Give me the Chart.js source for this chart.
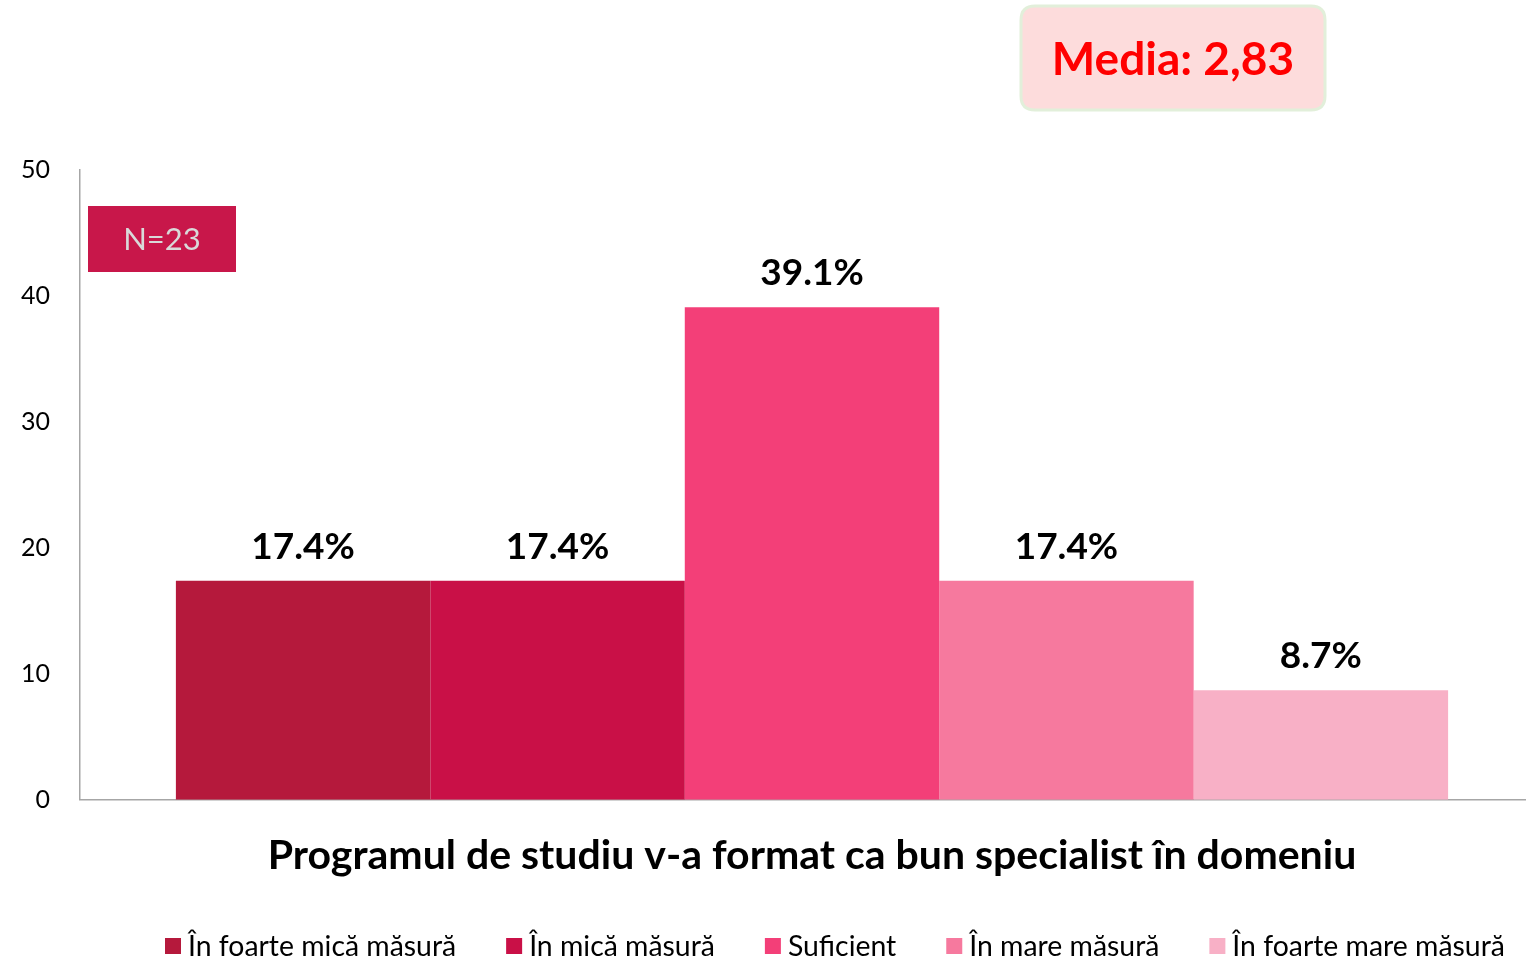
<!DOCTYPE html>
<html>
<head>
<meta charset="utf-8">
<script src="https://cdn.jsdelivr.net/npm/chart.js@4/dist/chart.umd.min.js"></script>
<style>
html,body{margin:0;padding:0;background:#fff;overflow:hidden;}
#wrap{width:1526px;height:959px;overflow:hidden;position:relative;}
canvas{position:absolute;left:0;top:0;}
</style>
</head>
<body>
<div id="wrap"><canvas id="c" width="1544" height="959"></canvas></div>
<script>
const categories = ['Programul de studiu v-a format ca bun specialist în domeniu'];
const seriesNames = ['În foarte mică măsură','În mică măsură','Suficient','În mare măsură','În foarte mare măsură'];
const seriesValues = [17.4, 17.4, 39.1, 17.4, 8.7];
const seriesColors = ['#B5193C','#C91047','#F33F78','#F6799E','#F8B0C6'];
const yTicks = [0,10,20,30,40,50];
const sampleLabel = 'N=23';
const meanLabel = 'Media: 2,83';

const FONT = 'Lato, "Open Sans", sans-serif';

const datasets = seriesNames.map((n,i)=>({
  label: n,
  data: [seriesValues[i]],
  backgroundColor: seriesColors[i],
  borderWidth: 0,
  barPercentage: 1.0,
  categoryPercentage: 0.869
}));

const decor = {
  id:'decor',
  afterDatasetsDraw(chart){
    const ctx = chart.ctx;
    ctx.save();
    ctx.fillStyle = '#000';
    ctx.font = 'bold 37px ' + FONT;
    ctx.textAlign = 'center';
    ctx.textBaseline = 'alphabetic';
    chart.data.datasets.forEach((ds,i)=>{
      const meta = chart.getDatasetMeta(i);
      meta.data.forEach((bar,j)=>{
        ctx.fillText(ds.data[j].toFixed(1)+'%', bar.x, bar.y - 22);
      });
    });
    // N box
    ctx.fillStyle = '#C8174A';
    ctx.fillRect(88,206,148,66);
    ctx.fillStyle = '#D9D9D9';
    ctx.font = '31px ' + FONT;
    ctx.textBaseline = 'middle';
    ctx.fillText(sampleLabel, 162, 240);
    // Media box
    const x=1021,y=6,w=304,h=104,r=14;
    ctx.beginPath();
    ctx.moveTo(x+r,y);ctx.lineTo(x+w-r,y);ctx.quadraticCurveTo(x+w,y,x+w,y+r);
    ctx.lineTo(x+w,y+h-r);ctx.quadraticCurveTo(x+w,y+h,x+w-r,y+h);
    ctx.lineTo(x+r,y+h);ctx.quadraticCurveTo(x,y+h,x,y+h-r);
    ctx.lineTo(x,y+r);ctx.quadraticCurveTo(x,y,x+r,y);ctx.closePath();
    ctx.fillStyle = '#FDDCDC';ctx.fill();
    ctx.lineWidth = 3;ctx.strokeStyle = '#E2EFDA';ctx.stroke();
    ctx.fillStyle = '#FF0000';
    ctx.font = 'bold 46px ' + FONT;
    ctx.fillText(meanLabel, x+w/2, y+h/2+2);
    // legend
    ctx.font = '28.4px ' + FONT;
    ctx.textAlign = 'left';
    ctx.textBaseline = 'middle';
    let lx = 165;
    const ly = 946;
    chart.data.datasets.forEach((ds)=>{
      ctx.fillStyle = ds.backgroundColor;
      ctx.fillRect(lx, ly-8, 16, 16);
      ctx.fillStyle = '#000';
      ctx.fillText(ds.label, lx+23, ly+1);
      lx += 23 + ctx.measureText(ds.label).width + 50;
    });
    ctx.restore();
  }
};

new Chart(document.getElementById('c'), {
  type:'bar',
  data:{labels:categories, datasets},
  options:{
    responsive:false,
    animation:false,
    layout:{padding:{top:170,right:0,left:0,bottom:79}},
    plugins:{
      legend:{display:false},
      tooltip:{enabled:false}
    },
    scales:{
      x:{
        ticks:{display:false},
        grid:{display:false, drawTicks:false},
        border:{display:true,color:'#A6A6A6',width:1.5},
        title:{display:true,text:categories[0],font:{family:FONT,size:41,weight:'bold'},color:'#000',padding:{top:31,bottom:0}}
      },
      y:{
        min:0,max:50,
        afterBuildTicks(s){ s.ticks = yTicks.map(v=>({value:v})); },
        ticks:{font:{family:FONT,size:25},color:'#000',padding:30},
        grid:{display:false, drawTicks:false},
        border:{display:true,color:'#A6A6A6',width:1.5},
        afterFit(s){ s.width = 80; }
      }
    }
  },
  plugins:[decor]
});
</script>
</body>
</html>
